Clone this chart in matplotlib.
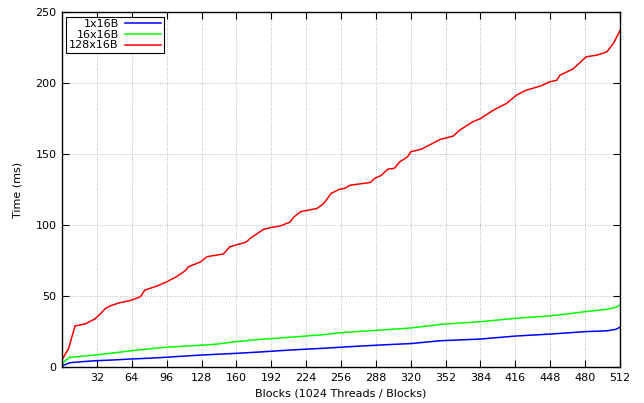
import matplotlib
matplotlib.use('Agg')
import matplotlib.pyplot as plt

# data
blocks_1 = [0, 2, 4, 7, 16, 30, 48, 62, 80, 94, 110, 127, 143, 159, 182, 210, 240, 270, 300, 320, 347, 384, 416, 448, 480, 500, 508, 512]
time_1 = [0.5, 1.5, 2, 3, 3.6, 4.4, 5.0, 5.6, 6.2, 6.8, 7.6, 8.4, 9.0, 9.6, 10.6, 12.0, 13.2, 14.6, 15.8, 16.5, 18.5, 19.7, 21.8, 23.2, 24.9, 25.5, 26.5, 28]

blocks_16 = [0, 2, 7, 16, 30, 48, 62, 80, 94, 110, 127, 143, 159, 182, 210, 240, 256, 288, 320, 347, 384, 416, 448, 470, 480, 500, 508, 512]
time_16 = [2, 3.8, 6.8, 7.4, 8.4, 10, 11.3, 12.8, 13.8, 14.6, 15.3, 16.2, 17.8, 19.5, 21.0, 22.8, 24.2, 25.8, 27.5, 30, 31.9, 34.3, 36, 38, 39, 40.6, 42, 43.7]

blocks_128 = [0, 2, 6, 12, 21, 30, 35, 40, 44, 53, 62, 72, 76, 87, 96, 105, 113, 116, 127, 133, 148, 154, 169, 173, 185, 192, 200, 209, 213, 219, 234, 240, 247, 254, 260, 264, 283, 287, 293, 299, 305, 310, 317, 320, 330, 347, 359, 365, 377, 384, 396, 408, 417, 426, 439, 448, 454, 457, 469, 481, 491, 500, 506, 512]
time_128 = [5, 7.7, 13, 29, 30.3, 33.8, 37.3, 41.3, 43, 45.3, 46.7, 49.5, 54.2, 57, 60, 63.6, 67.8, 70.6, 74, 77.7, 79.6, 84.7, 88, 90.8, 97, 98.3, 99.3, 102, 105.8, 109.4, 111.7, 115, 122.3, 125, 126, 128, 130, 132.9, 135, 139.4, 140, 144.6, 148, 151.6, 153.5, 160.3, 162.7, 166.9, 172.8, 175, 181, 185.7, 191.5, 195, 197.9, 201, 202, 205.6, 210, 218.5, 219.7, 222, 228, 237]

x_ticks = list(range(32, 513, 32))
y_ticks = [0, 50, 100, 150, 200, 250]

plt.rcParams['font.family'] = ['DejaVu Sans']
plt.rcParams['font.size'] = 8

fig = plt.figure(figsize=(6.44, 4.03), dpi=100)
ax = fig.add_axes([0.0963, 0.0893, 0.8664, 0.8807])

ax.plot(blocks_1, time_1, color='#0000ff', lw=1.1, label='1x16B')
ax.plot(blocks_16, time_16, color='#00ff00', lw=1.1, label='16x16B')
ax.plot(blocks_128, time_128, color='#ff0000', lw=1.1, label='128x16B')

ax.set_xlim(0, 512)
ax.set_ylim(0, 250)
ax.set_xticks(x_ticks)
ax.set_yticks(y_ticks)
ax.tick_params(direction='in', length=5, width=0.8, top=True, right=True, labelsize=8, pad=4)
ax.grid(True, color='#a0a0a0', linestyle=(0, (1, 2)), linewidth=0.6)
for s in ax.spines.values():
    s.set_linewidth(1.0)

ax.set_xlabel('Blocks (1024 Threads / Blocks)', fontsize=8, labelpad=4)
ax.set_ylabel('Time (ms)', fontsize=8, labelpad=9)

leg = ax.legend(loc='upper left', markerfirst=False, fontsize=8, handlelength=3.2,
                fancybox=False, framealpha=1, edgecolor='black', borderpad=0.25,
                labelspacing=0.05, handletextpad=0.6, borderaxespad=0.4)
leg.get_frame().set_linewidth(0.8)

fig.savefig('out.png', dpi=100)
